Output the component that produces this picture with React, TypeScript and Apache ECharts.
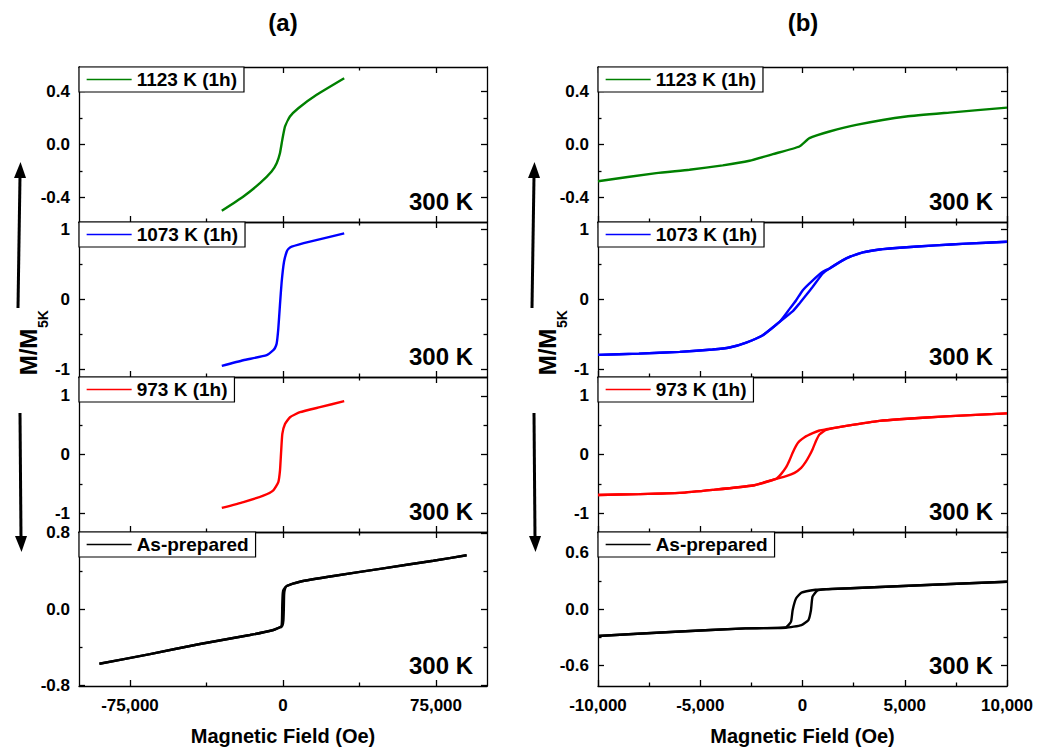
import { useEffect, useRef } from "react";
import * as echarts from "echarts";

// ---------------- data (field in Oe, magnetisation as M/M5K) ----------------
// (a) wide field range
const a1123: number[][] = [[-30000,-0.50],[-19400,-0.392],[-11300,-0.292],[-5600,-0.204],[-3100,-0.141],[-1500,-0.066],[-350,0.035],[1000,0.136],[3400,0.211],[7500,0.274],[16500,0.375],[30000,0.50]];
const a1073: number[][] = [[-30000,-0.951],[-19500,-0.870],[-8000,-0.798],[-4750,-0.726],[-3900,-0.693],[-3100,-0.631],[-2300,-0.416],[-1500,-0.08],[-650,0.254],[500,0.541],[1800,0.684],[2600,0.723],[4250,0.756],[13200,0.828],[30000,0.947]];
const a973: number[][] = [[-30000,-0.91],[-19400,-0.81],[-9650,-0.70],[-4750,-0.61],[-2300,-0.47],[-1470,-0.27],[-980,0.01],[-330,0.35],[980,0.52],[3430,0.635],[8330,0.72],[18100,0.806],[30000,0.908]];
const aAsPrepDown: number[][] = [[90000,0.565],[73700,0.508],[49200,0.428],[24700,0.347],[8300,0.287],[1800,0.242],[300,0.205],[-100,0.17],[-350,0.05],[-500,-0.12],[-800,-0.19],[-1800,-0.195],[-4700,-0.221],[-16200,-0.274],[-40700,-0.368],[-65200,-0.474],[-90000,-0.576]];
const aAsPrepUp: number[][] = [[-90000,-0.576],[-65200,-0.474],[-40700,-0.368],[-16200,-0.274],[-4700,-0.221],[-1800,-0.195],[-300,-0.175],[200,-0.12],[400,0.0],[550,0.15],[900,0.205],[1800,0.242],[8300,0.287],[24700,0.347],[49200,0.428],[73700,0.508],[90000,0.565]];

// (b) low field range
const b1123: number[][] = [[-10000,-0.277],[-7150,-0.216],[-5530,-0.191],[-3900,-0.158],[-2590,-0.123],[-1450,-0.073],[-150,-0.015],[340,0.048],[1320,0.098],[2630,0.148],[5070,0.211],[7190,0.241],[10000,0.278]];
const b1073Down: number[][] = [[10000,0.828],[8000,0.80],[6500,0.775],[4740,0.742],[3770,0.717],[2950,0.674],[2140,0.588],[1320,0.445],[990,0.397],[425,0.254],[15,0.134],[-310,-0.01],[-640,-0.138],[-1120,-0.32],[-1940,-0.511],[-2750,-0.616],[-3570,-0.688],[-4400,-0.717],[-6000,-0.75],[-8000,-0.775],[-10000,-0.793]];
const b1073Up: number[][] = [[-10000,-0.793],[-8000,-0.775],[-6000,-0.75],[-4400,-0.717],[-3570,-0.688],[-2750,-0.616],[-1940,-0.511],[-1120,-0.32],[-470,-0.166],[-150,-0.057],[180,0.063],[500,0.182],[990,0.373],[1320,0.445],[2140,0.588],[2950,0.674],[3770,0.717],[4740,0.742],[6500,0.775],[8000,0.80],[10000,0.828]];
const b973Down: number[][] = [[10000,0.70],[7000,0.65],[4740,0.601],[3770,0.572],[2140,0.487],[1160,0.43],[830,0.409],[500,0.363],[100,0.295],[-150,0.227],[-310,0.153],[-470,0.039],[-640,-0.102],[-800,-0.216],[-1040,-0.33],[-1290,-0.416],[-2430,-0.528],[-4390,-0.603],[-6010,-0.654],[-8000,-0.675],[-10000,-0.69]];
const b973Up: number[][] = [[-10000,-0.69],[-8000,-0.675],[-6010,-0.654],[-4390,-0.603],[-2430,-0.528],[-1290,-0.416],[-800,-0.37],[-390,-0.313],[-65,-0.228],[150,-0.131],[340,-0.017],[500,0.095],[670,0.238],[830,0.34],[1160,0.42],[2140,0.487],[3770,0.572],[4740,0.601],[7000,0.65],[10000,0.70]];
const bAsPrepDown: number[][] = [[10000,0.29],[5780,0.253],[2350,0.221],[1150,0.212],[640,0.205],[-50,0.174],[-310,0.114],[-480,-0.01],[-560,-0.135],[-820,-0.196],[-2790,-0.206],[-6220,-0.242],[-10000,-0.288]];
const bAsPrepUp: number[][] = [[-10000,-0.288],[-6220,-0.242],[-2790,-0.206],[-820,-0.2],[-50,-0.171],[290,-0.118],[415,-0.01],[490,0.131],[720,0.196],[1150,0.21],[2350,0.221],[5780,0.253],[10000,0.29]];

// sample names and colours (top to bottom)
const sampleNames = ["1123 K (1h)", "1073 K (1h)", "973 K (1h)", "As-prepared"];
const sampleColors = ["#008000", "#0000ff", "#ff0000", "#000000"];
const seriesA = [[a1123], [a1073], [a973], [aAsPrepDown, aAsPrepUp]];
const seriesB = [[b1123], [b1073Down, b1073Up], [b973Down, b973Up], [bAsPrepDown, bAsPrepUp]];

// axis ranges and ticks
const xRangeA = [-100000, 100000];
const xMajorA = [-75000, 0, 75000];
const xMinorA = [-37500, 37500];
const xRangeB = [-10000, 10000];
const xMajorB = [-10000, -5000, 0, 5000, 10000];
const xMinorB = [-7500, -2500, 2500, 7500];

const yMaxA = [0.585, 1.11, 1.32, 0.81];
const yMaxB = [0.585, 1.11, 1.32, 0.82];
const yMajorA = [[-0.4, 0, 0.4], [-1, 0, 1], [-1, 0, 1], [-0.8, 0, 0.8]];
const yMinorA = [[-0.2, 0.2], [-0.5, 0.5], [-0.5, 0.5], [-0.4, 0.4]];
const yMajorB = [[-0.4, 0, 0.4], [-1, 0, 1], [-1, 0, 1], [-0.6, 0, 0.6]];
const yMinorB = [[-0.2, 0.2], [-0.5, 0.5], [-0.5, 0.5], [-0.3, 0.3]];
const yDecimals = [1, 0, 0, 1];

const tempLabel = "300 K";
const xTitle = "Magnetic Field (Oe)";

// ---------------- layout ----------------
const FONT = '"Liberation Sans", Arial, Helvetica, sans-serif';
const panelTops = [67, 222, 377, 532];
const panelHeights = [155, 155, 155, 154];
const colLefts = [79, 598];
const colWidths = [408, 409];

function buildOption() {
  const grid: any[] = [];
  const xAxis: any[] = [];
  const yAxis: any[] = [];
  const series: any[] = [];
  const legend: any[] = [];
  const graphic: any[] = [];
  const axisLineStyle = { color: "#000", width: 1.3 };
  const tickStyle = { color: "#000", width: 1.3 };

  for (let c = 0; c < 2; c++) {
    const xr = c === 0 ? xRangeA : xRangeB;
    const xMaj = c === 0 ? xMajorA : xMajorB;
    const xMin = c === 0 ? xMinorA : xMinorB;
    const yMaxs = c === 0 ? yMaxA : yMaxB;
    const yMaj = c === 0 ? yMajorA : yMajorB;
    const yMin = c === 0 ? yMinorA : yMinorB;
    const data = c === 0 ? seriesA : seriesB;
    for (let p = 0; p < 4; p++) {
      const g = grid.length;
      const isBottom = p === 3;
      grid.push({
        left: colLefts[c], top: panelTops[p], width: colWidths[c], height: panelHeights[p],
        containLabel: false, outerBoundsMode: "none",
      });
      const xBase = {
        type: "value", gridIndex: g, min: xr[0], max: xr[1],
        splitLine: { show: false },
      };
      const yBase = {
        type: "value", gridIndex: g, min: -yMaxs[p], max: yMaxs[p],
        splitLine: { show: false },
      };
      for (const pos of ["bottom", "top"]) {
        xAxis.push({
          ...xBase, position: pos,
          axisLine: { show: true, onZero: false, lineStyle: axisLineStyle },
          axisTick: { show: true, inside: true, length: 6, customValues: xMaj, lineStyle: tickStyle },
          axisLabel: {
            show: pos === "bottom" && isBottom, customValues: xMaj,
            formatter: (v: number) => v.toLocaleString("en-US"),
            fontSize: 17, fontWeight: "bold", color: "#000", fontFamily: FONT, margin: 11,
          },
          ...(pos === "bottom" && isBottom
            ? {
                name: xTitle, nameLocation: "middle", nameGap: 40,
                nameTextStyle: { fontSize: 20, fontWeight: "bold", color: "#000", fontFamily: FONT },
              }
            : {}),
        });
        xAxis.push({
          ...xBase, position: pos,
          axisLine: { show: false, onZero: false },
          axisTick: { show: true, inside: true, length: 3.5, customValues: xMin, lineStyle: tickStyle },
          axisLabel: { show: false },
        });
      }
      for (const pos of ["left", "right"]) {
        yAxis.push({
          ...yBase, position: pos,
          axisLine: { show: true, onZero: false, lineStyle: axisLineStyle },
          axisTick: { show: true, inside: true, length: 6, customValues: yMaj[p], lineStyle: tickStyle },
          axisLabel: {
            show: pos === "left", customValues: yMaj[p],
            formatter: (v: number) => v.toFixed(yDecimals[p]),
            fontSize: 17, fontWeight: "bold", color: "#000", fontFamily: FONT, margin: 9,
          },
        });
        yAxis.push({
          ...yBase, position: pos,
          axisLine: { show: false, onZero: false },
          axisTick: { show: true, inside: true, length: 3.5, customValues: yMin[p], lineStyle: tickStyle },
          axisLabel: { show: false },
        });
      }
      for (const d of data[p]) {
        series.push({
          type: "line", name: sampleNames[p], xAxisIndex: 4 * g, yAxisIndex: 4 * g,
          data: d, symbol: "none", showSymbol: false,
          smooth: 0.15,
          lineStyle: { color: sampleColors[p], width: 2.4 },
          itemStyle: { color: sampleColors[p] },
          z: 3,
        });
      }
      legend.push({
        show: true, left: colLefts[c], top: panelTops[p], data: [sampleNames[p]],
        orient: "horizontal", padding: [3, 7, 3, 7], itemWidth: 45, itemHeight: 14, itemGap: 0,
        borderColor: "#000", borderWidth: 1.2, backgroundColor: "#fff", selectedMode: false,
        lineStyle: { width: 1.3 },
        itemStyle: { opacity: 0, color: "transparent", borderWidth: 0 },
        textStyle: { fontSize: 19, fontWeight: "bold", color: "#000", fontFamily: FONT, lineHeight: 19 },
      });
      graphic.push({
        type: "text", x: colLefts[c] + colWidths[c] - 14, y: panelTops[p] + panelHeights[p] - 20.5,
        style: {
          text: tempLabel, align: "right", verticalAlign: "middle",
          font: `bold 24px ${FONT}`, fill: "#000",
        },
        z: 10,
      });
    }
  }

  // column titles, y titles and arrows
  const titleX = [283, 803];
  const ylabX = [28, 547.5];
  const arrowX = [19, 533];
  for (let c = 0; c < 2; c++) {
    graphic.push({
      type: "text", x: titleX[c], y: 22,
      style: { text: c === 0 ? "(a)" : "(b)", align: "center", verticalAlign: "middle", font: `bold 24px ${FONT}`, fill: "#000" },
    });
    graphic.push({
      type: "text", x: ylabX[c], y: 352, rotation: Math.PI / 2,
      style: { text: "M/M", align: "center", verticalAlign: "middle", font: `bold 24px ${FONT}`, fill: "#000" },
    });
    graphic.push({
      type: "text", x: ylabX[c] + 14.5, y: 319, rotation: Math.PI / 2,
      style: { text: "5K", align: "center", verticalAlign: "middle", font: `bold 14px ${FONT}`, fill: "#000" },
    });
    const ax = arrowX[c];
    graphic.push({ type: "line", shape: { x1: ax - 1, y1: 308, x2: ax + 1, y2: 176 }, style: { stroke: "#000", lineWidth: 3 } });
    graphic.push({ type: "polygon", shape: { points: [[ax - 5, 178], [ax + 7, 178], [ax + 1.5, 162]] }, style: { fill: "#000" } });
    graphic.push({ type: "line", shape: { x1: ax + 1, y1: 413, x2: ax + 2, y2: 538 }, style: { stroke: "#000", lineWidth: 3 } });
    graphic.push({ type: "polygon", shape: { points: [[ax - 4, 536], [ax + 8, 536], [ax + 2.5, 552]] }, style: { fill: "#000" } });
  }

  return {
    animation: false,
    backgroundColor: "#fff",
    textStyle: { fontFamily: FONT },
    grid, xAxis, yAxis, series, legend, graphic,
  };
}

export default function App() {
  const ref = useRef<HTMLDivElement>(null);
  useEffect(() => {
    if (!ref.current) return;
    const chart = echarts.init(ref.current, undefined, { renderer: "svg" });
    chart.setOption(buildOption() as any);
    return () => chart.dispose();
  }, []);
  return (
    <div
      ref={ref}
      style={{ position: "absolute", left: 0, top: 0, width: 1051, height: 749, background: "#fff" }}
    />
  );
}
